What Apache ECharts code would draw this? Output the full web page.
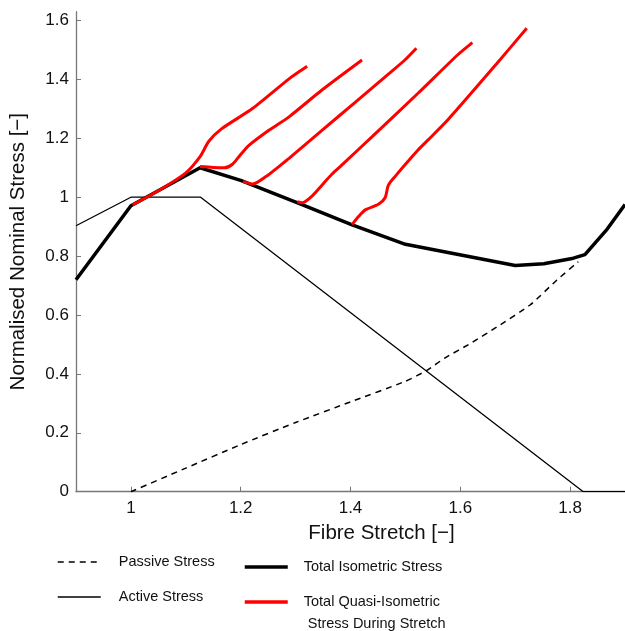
<!DOCTYPE html>
<html>
<head>
<meta charset="utf-8">
<title>Fibre stretch</title>
<script src="https://cdn.jsdelivr.net/npm/echarts@6/dist/echarts.min.js"></script>
<style>
  html, body { margin: 0; padding: 0; background: #fff; }
  #chart { width: 625px; height: 631px; }
</style>
</head>
<body>
<div id="chart"></div>
<script>
// values, [stretch, stress]
const passiveStress = [[1, 0], [1.1, 0.08], [1.2, 0.16], [1.3, 0.235], [1.4, 0.305], [1.5, 0.375],
  [1.54, 0.413], [1.571, 0.453], [1.62, 0.505], [1.667, 0.56], [1.727, 0.634], [1.776, 0.719], [1.815, 0.781]];
const activeStress = [[0.9, 0.903], [1, 1], [1.127, 1], [1.824, 0], [1.9, 0]];
const isometricStress = [[0.9, 0.72], [1, 0.971], [1.126, 1.1], [1.2, 1.057], [1.306, 0.979], [1.403, 0.906],
  [1.5, 0.84], [1.7, 0.768], [1.752, 0.774], [1.806, 0.793], [1.827, 0.805], [1.866, 0.888], [1.9, 0.975]];

const quasi1 = [[1.003, 0.974], [1.05, 1.022], [1.099, 1.081], [1.126, 1.138], [1.142, 1.19], [1.165, 1.232],
  [1.222, 1.302], [1.288, 1.402], [1.306, 1.426], [1.321, 1.445]];
const quasi2 = [[1.126, 1.104], [1.15, 1.101], [1.17, 1.1], [1.185, 1.112], [1.2, 1.145], [1.215, 1.176],
  [1.252, 1.228], [1.288, 1.273], [1.348, 1.364], [1.421, 1.466]];
const quasi3 = [[1.204, 1.053], [1.222, 1.045], [1.246, 1.07], [1.27, 1.105], [1.288, 1.132], [1.348, 1.227],
  [1.409, 1.323], [1.469, 1.418], [1.499, 1.466], [1.52, 1.506]];
const quasi4 = [[1.303, 0.985], [1.312, 0.981], [1.33, 1.004], [1.348, 1.041], [1.366, 1.078], [1.384, 1.109],
  [1.439, 1.205], [1.523, 1.353], [1.595, 1.483], [1.622, 1.525]];
const quasi5 = [[1.403, 0.907], [1.415, 0.935], [1.427, 0.957], [1.451, 0.976], [1.463, 0.998], [1.469, 1.041],
  [1.481, 1.07], [1.523, 1.16], [1.541, 1.194], [1.577, 1.262], [1.667, 1.455], [1.721, 1.574]];

const xTicks = [1, 1.2, 1.4, 1.6, 1.8];
const yTicks = [0, 0.2, 0.4, 0.6, 0.8, 1, 1.2, 1.4, 1.6];

const quasiName = "Total Quasi-Isometric Stress During Stretch";
const font = "'Liberation Sans', Arial, Helvetica, sans-serif";

const chart = echarts.init(document.getElementById("chart"));

function legendAt(name, left, top, width, gap, extra) {
  return Object.assign({
    data: [name],
    left: left,
    top: top,
    padding: 0,
    itemWidth: 43,
    itemHeight: 20,
    selectedMode: false,
    itemStyle: { opacity: 0 },
    textStyle: { fontFamily: font, fontSize: 14.5, color: "#111", padding: [0, 0, 0, gap] },
    lineStyle: { width: width },
  }, extra || {});
}

function quasiSeries(data) {
  return {
    name: quasiName,
    type: "line",
    data: data,
    symbol: "none",
    smooth: 0.25,
    itemStyle: { color: "#ff0000" },
    lineStyle: { color: "#ff0000", width: 3 },
    z: 5,
  };
}

chart.setOption({
  animation: false,
  grid: { left: 75, top: 11.7, width: 554, height: 480 },
  legend: [
    legendAt("Passive Stress", 57, 554, 1.5, 13),
    legendAt("Active Stress", 57, 589, 1.5, 13),
    legendAt("Total Isometric Stress", 243, 559, 3.5, 11),
    legendAt(quasiName, 243, 569, 3.5, 11, {
      // blank first line keeps the first text line level with the red sample
      formatter: function () { return "\nTotal Quasi-Isometric\n Stress During Stretch"; },
      textStyle: { fontFamily: font, fontSize: 14.5, color: "#111", lineHeight: 22, padding: [0, 0, 0, 11] },
    }),
  ],
  xAxis: {
    type: "value",
    min: 0.9,
    max: 1.9,
    name: "Fibre Stretch [\u2212]",
    nameLocation: "middle",
    nameGap: 31,
    nameTextStyle: { fontFamily: font, fontSize: 20.5, color: "#111", padding: [0, 0, 0, 62] },
    axisLine: { lineStyle: { color: "#777", width: 1.3 } },
    axisTick: { inside: true, length: 5, customValues: xTicks, lineStyle: { color: "#777" } },
    axisLabel: { customValues: xTicks, fontFamily: font, fontSize: 17, color: "#111", margin: 8 },
    splitLine: { show: false },
  },
  yAxis: {
    type: "value",
    min: 0,
    max: 1.63,
    name: "Normalised Nominal Stress [\u2212]",
    nameLocation: "middle",
    nameGap: 47,
    nameTextStyle: { fontFamily: font, fontSize: 20.5, color: "#111" },
    axisLine: { show: true, lineStyle: { color: "#777", width: 1.3 } },
    axisTick: { show: true, inside: true, length: 5, customValues: yTicks, lineStyle: { color: "#777" } },
    axisLabel: { customValues: yTicks, fontFamily: font, fontSize: 17, color: "#111", margin: 7 },
    splitLine: { show: false },
  },
  series: [
    {
      name: "Passive Stress",
      type: "line",
      data: passiveStress,
      symbol: "none",
      smooth: 0.2,
      itemStyle: { color: "#000" },
      lineStyle: { color: "#000", width: 1.5, type: [6, 5] },
    },
    {
      name: "Active Stress",
      type: "line",
      data: activeStress,
      symbol: "none",
      itemStyle: { color: "#000" },
      lineStyle: { color: "#000", width: 1.3 },
    },
    {
      name: "Total Isometric Stress",
      type: "line",
      data: isometricStress,
      symbol: "none",
      itemStyle: { color: "#000" },
      lineStyle: { color: "#000", width: 3.5 },
      z: 3,
    },
    quasiSeries(quasi1),
    quasiSeries(quasi2),
    quasiSeries(quasi3),
    quasiSeries(quasi4),
    quasiSeries(quasi5),
  ],
});
</script>
</body>
</html>
